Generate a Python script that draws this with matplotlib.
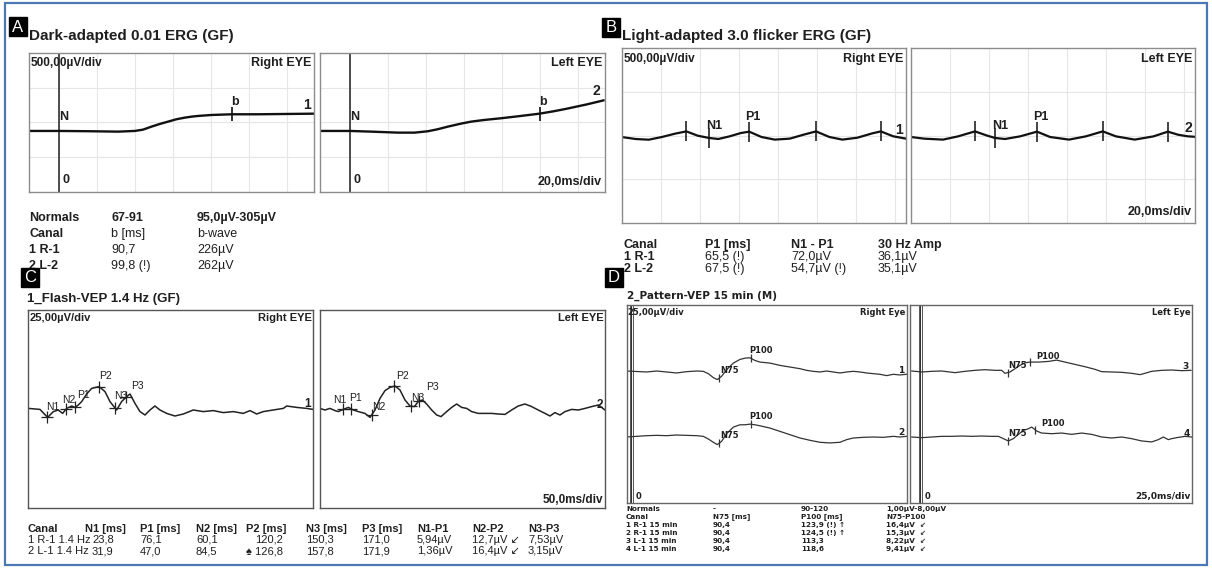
# Recreate the ERG / VEP report figure (panels A-D)
import numpy as np
import matplotlib
matplotlib.use("Agg")
import matplotlib.pyplot as plt
from matplotlib import font_manager
from matplotlib.patches import Rectangle


def has_font(name):
    try:
        font_manager.findfont(font_manager.FontProperties(family=name), fallback_to_default=False)
        return True
    except ValueError:
        return False


NARROW = "Liberation Sans Narrow" if has_font("Liberation Sans Narrow") else "Liberation Sans"
SANS = ["Liberation Sans", "DejaVu Sans"]
NARROW = [NARROW, "DejaVu Sans"]

# ---------------- data (time in ms, amplitude in uV) ----------------
# A: dark-adapted 0.01 ERG
a_right_t = [-15.7, 0, 17.1, 31.1, 39.9, 44.2, 48.6, 53.0, 57.3, 61.7, 66.1, 69.6, 73.0, 80.1, 90.9, 104.5, 134.0]
a_right_v = [0, 0, -4, -9, 0, 17, 56, 91, 121, 152, 173, 186, 195, 208, 217, 217, 225]
a_left_t = [-15.7, 0, 11.3, 25.3, 34.0, 40.9, 46.1, 51.4, 58.3, 63.6, 70.5, 79.3, 89.7, 99.6, 107.0, 114.0, 124.5, 133.2]
a_left_v = [0, 0, -9, -22, -22, -4, 22, 56, 95, 121, 143, 165, 195, 225, 256, 290, 346, 398]
a_b_ms = [90.7, 99.8]

# B: light-adapted 3.0 flicker ERG
b_right_t = [0, 7, 13.7, 20.5, 27.2, 33, 38.8, 44.6, 49.4, 55.1, 60.9, 65.2, 71.5, 78.3, 86, 93.7,
             99.5, 106.3, 113, 120.7, 128.4, 132.7, 139, 145.6]
b_right_v = [-18, -40, -48, -17, 21, 47, -2, -28, -40, -10, 28, 44, -17, -47, -36, 13,
             47, -17, -47, -25, 25, 47, -9, -36]
b_left_t = [0, 6.7, 16.4, 24.1, 32.8, 38.6, 43, 48.2, 55.9, 64.6, 71.3, 81, 89.6, 98.3, 105.1,
            114.7, 124.3, 131.7, 136.9, 141.7, 145.6]
b_left_v = [-17, -36, -47, -10, 47, 2, -28, -40, -10, 44, -17, -47, -10, 47, -10,
            -47, -10, 44, 9, -9, -15]
b_right_ticks = [33, 44.6, 65.2, 99.5, 132.7]
b_left_ticks = [32.8, 43.0, 64.6, 98.3, 131.7]

# C: flash VEP 1.4 Hz
c_right_t = [-10.5, 11, 25.3, 35.8, 45, 53, 60.5, 69.8, 76, 82, 88.3, 97.5, 106.8, 120.4, 131.5, 140.7,
             153, 162.3, 171.6, 177.8, 187, 196.3, 205.6, 214.8, 224, 233.3, 245.7, 261, 276.5, 295,
             313.5, 332, 350.5, 369, 387.6, 400, 412.4, 424.6, 443, 461.7, 468, 486.5, 505, 516.7]
c_right_v = [-0.2, -0.7, -4.7, -1.8, -1, -2.7, -0.2, 1, 0.3, 1.5, 3.2, 7, 9.8, 10.7, 8.2, 3.2,
             -1, 3.2, 5.7, 7, 2.3, -1.8, -3.5, -1, 1, -1, -2.7, -4, -3, -1,
             -1.8, -1.3, -2.3, -1.8, -2.7, -1.3, -3, -1.8, -1, -0.2, 1, 0.3, -0.2, -0.7]
c_left_t = [-11.1, -1.9, 7.4, 16.7, 22.8, 32.1, 41.4, 50.6, 59.9, 72.2, 81.5, 90.7, 100, 109.3, 118.5,
            127.8, 137, 146.3, 155.6, 163.6, 170.9, 178.4, 186.4, 195.7, 205, 213, 223.5, 232.7, 242,
            251.2, 260.5, 269.8, 282, 294.4, 306.8, 319, 331.5, 343.8, 356, 368.5, 380.9, 393, 405.6,
            414.8, 424, 433.3, 442.6, 455, 467.3, 479.6, 492, 504.3, 516.7]
c_left_v = [-0.2, -1.0, -0.2, -1.3, -1.8, -0.7, 0.3, -1.0, -1.8, -2.7, -4.7, -1.0, 4.8, 8.7, 10.3,
            11, 9, 4, 1, 0.7, 3.2, 4, 2, -1, -3.5, -4.3, -1.8, 0.3, 2,
            0.3, -0.2, -1.8, -2.7, -2.7, -2.7, -3, -3.2, -1, 1, 2, 0.7, -1, -2.7,
            -4, -2.3, -3.5, -1.8, -0.7, -1, -0.2, 0.7, 1.5, -1]
c_peaks = ["N1", "P1", "N2", "P2", "N3", "P3"]
c_right_ms = [23.8, 76.1, 60.1, 120.2, 150.3, 171.0]
c_left_ms = [31.9, 47.0, 84.5, 126.8, 157.8, 171.9]

# D: pattern VEP 15 min (two runs per eye)
d1_t = [-5.6, 1.4, 15.3, 25.7, 36.1, 46.5, 56.9, 67.4, 74.3, 79.5, 84.7, 88.9, 93.4, 98.6, 105.6, 112.5,
        117.7, 122.9, 128.1, 133.3, 143.75, 154.2, 164.6, 175, 181.9, 188.9, 195.8, 202.8, 209.7, 216.7,
        223.6, 230.6, 237.5, 244.4, 251.4, 258.3, 265.3, 272.2, 279.2, 286]
d1_v = [0, -0.25, -0.75, 0, -0.75, -1.5, -0.5, 0, -0.25, -2, -5, -6.5, -4, 1, 6, 8.75,
        9.75, 10, 8, 6.75, 6, 4.25, 3, 1.75, 0.5, -0.25, -0.75, 0, -0.75, -1.5,
        -0.75, -0.25, -0.75, -1.5, -2, -2.5, -3.5, -2.5, -3, -2.5]
d2_t = [-5.6, 4.9, 15.3, 25.7, 36.1, 46.5, 56.9, 67.4, 74.3, 79.5, 84.7, 88.9, 93.4, 98.6, 105.6, 112.5,
        117.7, 122.9, 128.1, 133.3, 143.75, 154.2, 164.6, 175, 185.4, 195.8, 206.25, 216.7, 223.6,
        230.6, 241, 251.4, 261.8, 272.2, 279.2, 286]
d2_v = [0, 0.5, 1, 1.25, 1, 1.5, 1.25, 1, 0.5, -1.5, -4, -5.75, -3.25, 2.5, 7.5, 9.25,
        9.25, 9.75, 9.25, 8.5, 6.75, 4.25, 1.75, -0.75, -2.5, -4, -4.5, -4, -2,
        -0.75, -0.25, 0, -0.25, 0.5, 0, 0.5]
d3_t = [-9.7, 0.7, 11.1, 21.5, 35.4, 45.8, 56.25, 66.7, 77.1, 84, 87.5, 92.7, 97.9, 103.1, 108.3, 113.5,
        122.2, 132.6, 141.3, 150, 160.4, 170.8, 181.25, 188.2, 198.6, 209, 219.4, 228.1, 233.3, 240.3,
        250.7, 261.1, 271.5, 281.25]
d3_v = [0, -0.75, -0.25, 0, -1.25, -0.25, 0.5, 1, 0.5, 0.5, -1.75, -0.75, 1.75, 4.25, 6.25, 6.75,
        6.75, 7.25, 8.25, 6.75, 5, 3.25, 1.25, -0.5, -0.75, -1, -1.75, -2.75, -1.75, -0.25,
        0.5, 0.75, 0.25, 0.5]
d4_t = [-9.7, 0.7, 11.1, 21.5, 31.9, 42.4, 52.8, 63.2, 73.6, 80.6, 85.8, 91, 96.2, 101.4, 106.6, 111.8,
        115.3, 120.5, 125.7, 136.1, 146.5, 156.9, 167.4, 177.8, 188.2, 198.6, 209, 219.4, 229.9, 240.3,
        247.2, 252.4, 257.6, 261.1, 266.3, 275, 281.9]
d4_v = [0, -0.5, 0, 0.5, 0.5, 0.75, 0.5, 0.75, 0.5, 0.5, -1.25, -3, -1.25, 2, 5, 6.25,
        7.5, 4.5, 3, 2.5, 3, 2, 3, 2, 0, -0.75, 0, -1.25, -3, -3.75,
        -2, 0, -2, -1.25, -0.5, 0.5, 0]
d_n75_ms = [90.4, 90.4, 90.4, 90.4]
d_p100_ms = [123.9, 124.5, 113.3, 118.6]

# tables under each panel
a_table = [["Normals", "67-91", "95,0µV-305µV"],
           ["Canal", "b [ms]", "b-wave"],
           ["1 R-1", "90,7", "226µV"],
           ["2 L-2", "99,8 (!)", "262µV"]]
b_table = [["Canal", "P1 [ms]", "N1 - P1", "30 Hz Amp"],
           ["1 R-1", "65,5 (!)", "72,0µV", "36,1µV"],
           ["2 L-2", "67,5 (!)", "54,7µV (!)", "35,1µV"]]
c_table = [["Canal", "N1 [ms]", "P1 [ms]", "N2 [ms]", "P2 [ms]", "N3 [ms]", "P3 [ms]", "N1-P1", "N2-P2", "N3-P3"],
           ["1 R-1 1.4 Hz", "23,8", "76,1", "60,1", "120,2", "150,3", "171,0", "5,94µV", "12,7µV ↙", "7,53µV"],
           ["2 L-1 1.4 Hz", "31,9", "47,0", "84,5", "♠ 126,8", "157,8", "171,9", "1,36µV", "16,4µV ↙", "3,15µV"]]
d_table = [["Normals", "-", "90-120", "1,00µV-8,00µV"],
           ["Canal", "N75 [ms]", "P100 [ms]", "N75-P100"],
           ["1 R-1 15 min", "90,4", "123,9 (!) ↑", "16,4µV  ↙"],
           ["2 R-1 15 min", "90,4", "124,5 (!) ↑", "15,3µV  ↙"],
           ["3 L-1 15 min", "90,4", "113,3", "8,22µV  ↙"],
           ["4 L-1 15 min", "90,4", "118,6", "9,41µV  ↙"]]

# ---------------- figure ----------------
W, H = 1212, 568
INK = "#1f1f1f"

fig = plt.figure(figsize=(W / 100, H / 100), dpi=100)
bg = fig.add_axes([0, 0, 1, 1])
bg.set_xlim(0, W)
bg.set_ylim(H, 0)
bg.axis("off")
bg.add_patch(Rectangle((5, 3), W - 10, H - 6, fill=False, ec="#4a78b5", lw=1.6))


def box(x0, y0, x1, y1, xlim, ylim, edge="#8c8c8c", lw=1.0):
    ax = fig.add_axes([x0 / W, 1 - y1 / H, (x1 - x0) / W, (y1 - y0) / H])
    ax.set_facecolor("none")
    ax.set_xlim(*xlim)
    ax.set_ylim(*ylim)
    ax.set_xticks([])
    ax.set_yticks([])
    for s in ax.spines.values():
        s.set_color(edge)
        s.set_linewidth(lw)
    return ax


def grid(ax, step):
    lo, hi = ax.get_ylim()
    for t in np.arange(0, ax.get_xlim()[1], step):
        ax.axvline(t, color="#e6e6e6", lw=0.8, zorder=0)
    for f in (0.25, 0.5, 0.75):
        ax.axhline(lo + f * (hi - lo), color="#e6e6e6", lw=0.8, zorder=0)


def label(ax, s, xy, dx, dy, **kw):
    # offset in pixels, dy upwards
    ax.annotate(s, xy=xy, xytext=(dx * 0.72, dy * 0.72), textcoords="offset points",
                ha="center", va="center", color=INK, **kw)


def corner(ax, s, x, y, ha, va, **kw):
    ax.text(x, y, s, transform=ax.transAxes, ha=ha, va=va, color=INK, **kw)


def letter(x, y, s):
    bg.add_patch(Rectangle((x, y), 18, 19, color="black", zorder=5))
    bg.text(x + 9, y + 10, s, color="white", fontsize=12, ha="center", va="center",
            family=SANS, zorder=6)


def table(rows, xs, ys, **kw):
    for r, (row, y) in enumerate(zip(rows, ys)):
        for c, (s, x) in enumerate(zip(row, xs)):
            bold = r == 0 or c == 0
            bg.text(x, y, s, ha="left", va="center", color=INK,
                    fontweight="bold" if bold else "normal", **kw)


# ---- A ----
bg.text(29, 36, "Dark-adapted 0.01 ERG (GF)", fontsize=11, fontweight="bold", family=NARROW,
        ha="left", va="center", color=INK)
letter(9, 17, "A")
a_xlim, a_ylim = (-15.7, 134), (-795, 1015)
for x0, x1, t, v, b_ms, num, eye in [(29, 314, a_right_t, a_right_v, a_b_ms[0], "1", "Right EYE"),
                                      (320, 605, a_left_t, a_left_v, a_b_ms[1], "2", "Left EYE")]:
    ax = box(x0, 53, x1, 192, a_xlim, a_ylim)
    grid(ax, 20)
    ax.axvline(0, color=INK, lw=1.1)
    ax.plot(t, v, color="#111111", lw=1.7)
    bv = np.interp(b_ms, t, v)
    ax.plot([b_ms], [bv], marker="|", ms=10, mew=1.2, color="#111111")
    label(ax, "b", (b_ms, bv), 3, 12, fontsize=9, family=NARROW, fontweight="bold")
    label(ax, num, (t[-1], v[-1]), -7, 9, fontsize=10, family=NARROW, fontweight="bold")
    label(ax, "N", (0, np.interp(0, t, v)), 5, 14, fontsize=9, family=NARROW, fontweight="bold")
    ax.annotate("0", xy=(0, 0.04), xycoords=ax.get_xaxis_transform(), xytext=(5, 0),
                textcoords="offset points", ha="center", va="bottom", fontsize=9,
                family=NARROW, fontweight="bold", color=INK)
    corner(ax, eye, 0.99, 0.97, "right", "top", fontsize=9, family=NARROW, fontweight="bold")
    if num == "1":
        corner(ax, "500,00µV/div", 0.005, 0.97, "left", "top", fontsize=8.5, family=NARROW, fontweight="bold")
    else:
        corner(ax, "20,0ms/div", 0.99, 0.03, "right", "bottom", fontsize=9, family=NARROW, fontweight="bold")
table(a_table, [29, 111, 197], [218, 234, 250, 266], fontsize=9, family=NARROW)

# ---- B ----
bg.text(622, 36, "Light-adapted 3.0 flicker ERG (GF)", fontsize=11, fontweight="bold", family=NARROW,
        ha="left", va="center", color=INK)
letter(602, 18, "B")
b_xlim, b_ylim = (0, 145.6), (-1000, 1000)
for x0, x1, t, v, ticks, num, eye in [(622, 906, b_right_t, b_right_v, b_right_ticks, "1", "Right EYE"),
                                       (911, 1195, b_left_t, b_left_v, b_left_ticks, "2", "Left EYE")]:
    ax = box(x0, 48, x1, 223, b_xlim, b_ylim)
    grid(ax, 20)
    ax.plot(t, v, color="#111111", lw=1.6)
    tv = np.interp(ticks, t, v)
    ax.plot(ticks, tv, ls="none", marker="|", ms=14, mew=1.1, color="#111111")
    label(ax, "N1", (ticks[1], tv[1]), 5, 12, fontsize=9, family=NARROW, fontweight="bold")
    label(ax, "P1", (ticks[2], tv[2]), 4, 15, fontsize=9, family=NARROW, fontweight="bold")
    label(ax, num, (t[-1], v[-1]), -7, 9, fontsize=10, family=NARROW, fontweight="bold")
    corner(ax, eye, 0.99, 0.97, "right", "top", fontsize=9, family=NARROW, fontweight="bold")
    if num == "1":
        corner(ax, "500,00µV/div", 0.005, 0.97, "left", "top", fontsize=8.5, family=NARROW, fontweight="bold")
    else:
        corner(ax, "20,0ms/div", 0.99, 0.03, "right", "bottom", fontsize=9, family=NARROW, fontweight="bold")
table(b_table, [624, 705, 791, 878], [245, 257, 269], fontsize=9, family=NARROW)

# ---- C ----
bg.text(27, 299, "1_Flash-VEP 1.4 Hz (GF)", fontsize=9.5, fontweight="bold", family=SANS,
        ha="left", va="center", color=INK)
letter(21, 268, "C")
c_xlim, c_ylim = (-11.1, 516.7), (-50, 49)
c_offsets = {
    "1": [(6, 10), (8, 12), (2, 9), (7, 11), (6, 12), (11, 11)],
    "2": [(-3, 9), (4, 11), (7, 8), (8, 10), (7, 8), (14, 14)],
}
for x0, x1, t, v, ms, num, eye in [(28, 313, c_right_t, c_right_v, c_right_ms, "1", "Right EYE"),
                                    (320, 605, c_left_t, c_left_v, c_left_ms, "2", "Left EYE")]:
    ax = box(x0, 310, x1, 508, c_xlim, c_ylim, edge="#555555")
    ax.plot(t, v, color="#222222", lw=1.1)
    mv = np.interp(ms, t, v)
    ax.plot(ms, mv, ls="none", marker="+", ms=8, mew=0.9, color="#222222")
    for name, m, y, (dx, dy) in zip(c_peaks, ms, mv, c_offsets[num]):
        label(ax, name, (m, y), dx, dy, fontsize=7.5, family=SANS)
    label(ax, num, (t[-1], v[-1]), -5, 5, fontsize=8.5, family=SANS, fontweight="bold")
    corner(ax, eye, 0.995, 0.985, "right", "top", fontsize=8, family=SANS, fontweight="bold")
    if num == "1":
        corner(ax, "25,00µV/div", 0.005, 0.985, "left", "top", fontsize=8, family=SANS, fontweight="bold")
    else:
        corner(ax, "50,0ms/div", 0.995, 0.01, "right", "bottom", fontsize=8.5, family=SANS, fontweight="bold")
c_x = [28, 85, 140, 196, 246, 306, 362, 417, 472, 528]
for r, (row, y) in enumerate(zip(c_table, [529, 540, 551])):
    for c, (s, x) in enumerate(zip(row, c_x)):
        if r > 0 and c == 1:
            x = 92
        if r > 0 and c == 4 and not s.startswith("♠"):
            x = 255
        bg.text(x, y, s, ha="left", va="center", color=INK, fontsize=8, family=SANS,
                fontweight="bold" if r == 0 else "normal")

# ---- D ----
bg.text(627, 296, "2_Pattern-VEP 15 min (M)", fontsize=7.5, fontweight="bold", family="DejaVu Sans",
        ha="left", va="center", color=INK)
letter(605, 268, "D")
d_ylim = (-75, 75)
d_runs = [[(d1_t, d1_v, 25, "1"), (d2_t, d2_v, -25, "2")],
          [(d3_t, d3_v, 25, "3"), (d4_t, d4_v, -25, "4")]]
d_lbl = [[(11, 8), (10, 8)], [(10, 7), (18, 6)]]
for side, (x0, x1, xlim, eye) in enumerate([(627, 907, (-5.2, 286.5), "Right Eye"),
                                             (910, 1192, (-11.5, 282.3), "Left Eye")]):
    ax = box(x0, 305, x1, 503, xlim, d_ylim, edge="#666666")
    ax.axvline(0, color="#333333", lw=2.6)
    ax.axvline(0, color="white", lw=0.7)
    for k, (t, v, off, num) in enumerate(d_runs[side]):
        yv = np.asarray(v) + off
        ax.plot(t, yv, color="#333333", lw=0.9)
        i = side * 2 + k
        marks = [d_n75_ms[i], d_p100_ms[i]]
        mv = np.interp(marks, t, yv)
        ax.plot(marks, mv, ls="none", marker="|", ms=6, mew=0.9, color="#333333")
        (nx, ny), (px, py) = d_lbl[side]
        label(ax, "N75", (marks[0], mv[0]), nx, ny, fontsize=6, family="DejaVu Sans", fontweight="bold")
        label(ax, "P100", (marks[1], mv[1]), px, py, fontsize=6, family="DejaVu Sans", fontweight="bold")
        label(ax, num, (t[-1], yv[-1]), -5, 4, fontsize=6.5, family="DejaVu Sans", fontweight="bold")
    corner(ax, eye, 0.995, 0.985, "right", "top", fontsize=6, family="DejaVu Sans", fontweight="bold")
    ax.annotate("0", xy=(0, 0.01), xycoords=ax.get_xaxis_transform(), xytext=(5, 0),
                textcoords="offset points", ha="center", va="bottom", fontsize=6,
                family="DejaVu Sans", fontweight="bold", color=INK)
    if side == 0:
        corner(ax, "25,00µV/div", 0.0, 0.985, "left", "top", fontsize=6, family="DejaVu Sans", fontweight="bold")
    else:
        corner(ax, "25,0ms/div", 0.995, 0.01, "right", "bottom", fontsize=6.5, family="DejaVu Sans", fontweight="bold")
for r, (row, y) in enumerate(zip(d_table, [509, 517, 525, 533, 541, 549])):
    for s, x in zip(row, [626, 713, 801, 886]):
        bg.text(x, y, s, ha="left", va="center", color=INK, fontsize=5.2,
                family="DejaVu Sans", fontweight="bold")

fig.savefig("out.png", dpi=100)
